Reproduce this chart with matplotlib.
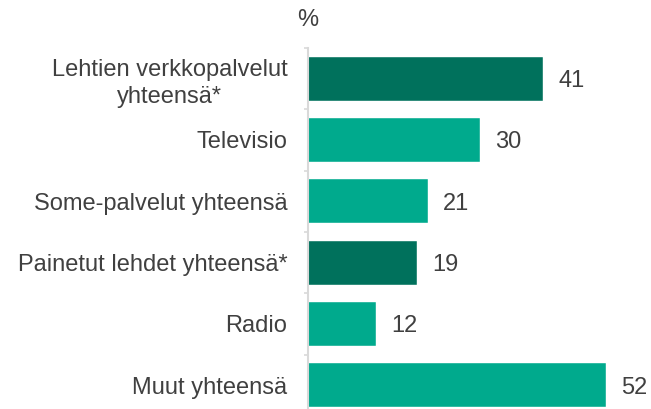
import matplotlib.pyplot as plt
from matplotlib.ticker import FixedLocator
import numpy as np

categories = ["Lehtien verkkopalvelut\nyhteensä*", "Televisio", "Some-palvelut yhteensä",
              "Painetut lehdet yhteensä*", "Radio", "Muut yhteensä"]
values = [41, 30, 21, 19, 12, 52]
highlight = [True, False, False, True, False, False]

dark = "#00715C"
teal = "#00AA8D"
text_col = "#404040"

plt.rcParams["font.family"] = ["Liberation Sans", "DejaVu Sans"]

fig = plt.figure(figsize=(6.51, 4.09), dpi=100)
ax = fig.add_axes([307.5 / 651, -7 / 409, 343.5 / 651, 368 / 409])

y = np.arange(len(categories))
colors = [dark if h else teal for h in highlight]
bars = ax.barh(y, values, height=0.72, color=colors, edgecolor="white", linewidth=0.3)

for b, v in zip(bars, values):
    ax.annotate(str(v), (b.get_width(), b.get_y() + b.get_height() / 2),
                xytext=(11, 0), textcoords="offset points",
                ha="left", va="center_baseline", fontsize=17, color=text_col)

ax.set_xlim(0, 343.5 / 5.74)
ax.set_ylim(len(categories) - 0.5, -0.5)
ax.set_yticks(y)
ax.set_yticklabels(categories, fontsize=17, color=text_col, ha="right",
                   multialignment="center", linespacing=1.3)
ax.tick_params(axis="y", which="major", length=0, pad=14.5)
ax.yaxis.set_minor_locator(FixedLocator(np.arange(-0.5, len(categories), 1)))
ax.tick_params(axis="y", which="minor", length=3, width=1.2, color="#D9D9D9")
ax.set_xticks([])

for s in ["top", "right", "bottom"]:
    ax.spines[s].set_visible(False)
ax.spines["left"].set_color("#D9D9D9")
ax.spines["left"].set_linewidth(1.5)

fig.text(308 / 651, 1 - 20 / 409, "%", fontsize=17, color=text_col, ha="center", va="center")

fig.savefig("out.png", dpi=100)
